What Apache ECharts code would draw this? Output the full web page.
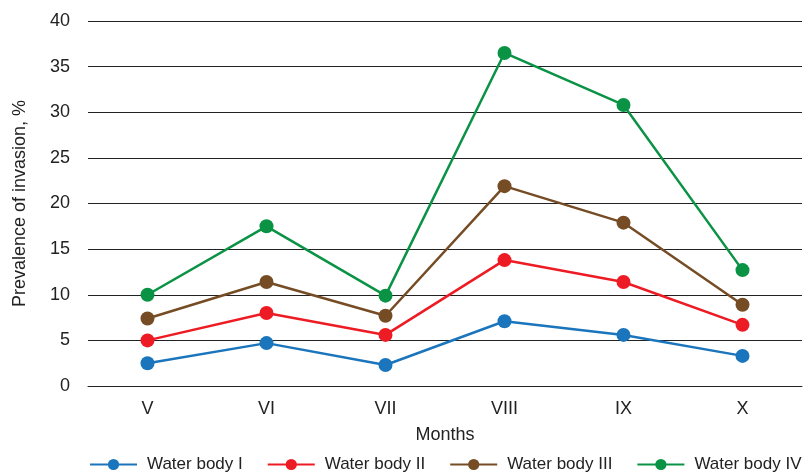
<!DOCTYPE html>
<html>
<head>
<meta charset="utf-8">
<script src="https://cdn.jsdelivr.net/npm/echarts@6/dist/echarts.min.js"></script>
<style>
  html, body { margin: 0; padding: 0; background: #fff; }
  #chart { width: 808px; height: 474px; }
</style>
</head>
<body>
<div id="chart"></div>
<script>
const months = ["V", "VI", "VII", "VIII", "IX", "X"];
const body1 = [2.5, 4.7, 2.3, 7.1, 5.6, 3.3];
const body2 = [5.0, 8.0, 5.6, 13.8, 11.4, 6.7];
const body3 = [7.4, 11.4, 7.7, 21.9, 17.9, 8.9];
const body4 = [10.0, 17.5, 9.9, 36.5, 30.8, 12.7];

const names = ["Water body I", "Water body II", "Water body III", "Water body IV"];
const colors = ["#1a75bc", "#ed1c24", "#754c24", "#0a9345"];
const values = [body1, body2, body3, body4];

const chart = echarts.init(document.getElementById("chart"));

let option = {
  backgroundColor: "#fff",
  textStyle: { fontFamily: "Liberation Sans, Arial, sans-serif" },
  grid: { left: 88, right: 6, top: 21, bottom: 88 },
  legend: {
    top: 456,
    left: 89,
    padding: 0,
    itemWidth: 47,
    itemHeight: 14,
    itemGap: 24,
    textStyle: { fontSize: 17, color: "#222", padding: [0, 0, 0, 5] },
    data: names
  },
  xAxis: {
    type: "category",
    data: months,
    name: "Months",
    nameLocation: "middle",
    nameGap: 40,
    nameTextStyle: { fontSize: 18, color: "#222" },
    axisLine: { lineStyle: { color: "#222", width: 1 } },
    axisTick: { show: false },
    axisLabel: { fontSize: 18, color: "#222", margin: 14 }
  },
  yAxis: {
    type: "value",
    min: 0,
    max: 40,
    interval: 5,
    name: "Prevalence of invasion, %",
    nameLocation: "middle",
    nameGap: 59,
    nameTextStyle: { fontSize: 18, color: "#222" },
    axisLine: { show: false },
    axisTick: { show: false },
    axisLabel: { fontSize: 18, color: "#222", margin: 18 },
    splitLine: { lineStyle: { color: "#222", width: 1 } }
  },
  series: names.map((n, i) => ({
    name: n,
    type: "line",
    data: values[i],
    symbol: "circle",
    symbolSize: 14,
    itemStyle: { color: colors[i] },
    lineStyle: { color: colors[i], width: 2.5 }
  }))
};

chart.setOption(option);
</script>
</body>
</html>
